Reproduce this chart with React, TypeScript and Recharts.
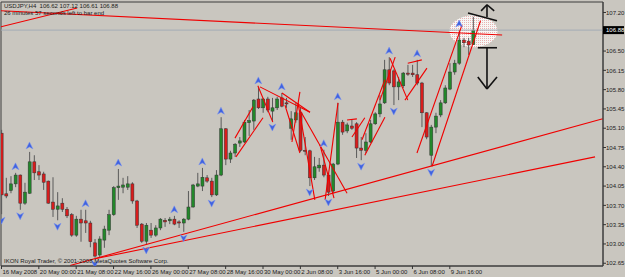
import React from "react";
import {
  ComposedChart,
  Bar,
  Scatter,
  XAxis,
  YAxis,
  ReferenceLine,
  ReferenceDot,
  ReferenceArea,
} from "recharts";

// USDJPY H4, bars 0..101 (16 May 2008 16:00 .. 10 Jun 2008)
const opens = [
  105.01, 103.91, 103.97, 104.09, 104.25, 103.74, 103.92, 104.49, 104.31, 104.27,
  104.14, 103.76, 103.63, 103.74, 103.63, 103.53, 103.16, 103.45, 103.42, 103.38,
  103.02, 102.8, 103.07, 103.25, 103.53, 104.02, 104.03, 104.03, 104.09, 103.78,
  103.36, 103.05, 103.25, 103.16, 103.29, 103.43, 103.42, 103.45, 103.4, 103.38,
  103.45, 103.67, 104.05, 104.05, 104.2, 104.14, 103.89, 104.25, 105.09, 104.54,
  104.65, 104.83, 104.85, 105.2, 105.23, 105.63, 105.47, 105.63, 105.41, 105.47,
  105.65, 105.56, 105.1, 105.25, 105.38, 104.7, 104.69, 104.2, 104.38, 104.43,
  104.25, 103.96, 104.45, 105.21, 105.05, 105.14, 105.18, 104.74, 104.7, 104.85,
  105.18, 105.36, 105.56, 106.16, 106.14, 105.85, 105.87, 106.1, 106.1, 106.07,
  105.92, 105.38, 104.61, 105.12, 105.34, 105.56, 105.81, 106.12, 106.28, 106.7,
  106.68, 106.62,
];
const highs = [
  105.07, 104.2, 104.23, 104.29, 104.26, 104.11, 104.67, 104.61, 104.43, 104.31,
  104.15, 104.21, 103.94, 103.83, 103.67, 103.56, 103.51, 103.62, 103.62, 103.42,
  103.09, 103.14, 103.33, 103.62, 104.05, 104.36, 104.2, 104.23, 104.12, 103.8,
  103.38, 103.38, 103.38, 103.34, 103.47, 103.47, 103.49, 103.51, 103.43, 103.47,
  103.96, 104.09, 104.29, 104.38, 104.25, 104.2, 104.34, 105.3, 105.1, 104.69,
  104.83, 104.94, 105.25, 105.43, 105.63, 105.85, 105.65, 105.67, 105.65, 105.67,
  105.74, 105.65, 105.41, 105.56, 105.48, 104.94, 104.71, 104.58, 104.56, 104.71,
  104.29, 104.47, 105.56, 105.25, 105.2, 105.25, 105.21, 104.94, 105.01, 105.25,
  105.39, 105.7, 106.34, 106.39, 106.17, 106.03, 106.12, 106.25, 106.25, 106.34,
  105.94, 105.39, 105.16, 105.38, 105.61, 105.88, 106.28, 106.34, 106.88, 106.74,
  106.74, 107.12,
];
const lows = [
  103.54, 103.83, 103.92, 104.03, 103.62, 103.71, 103.91, 104.16, 104.16, 103.98,
  103.73, 103.49, 103.43, 103.58, 103.47, 103.13, 103.13, 103.04, 103.2, 102.94,
  102.75, 102.76, 102.93, 103.16, 103.51, 103.8, 103.92, 103.98, 103.73, 103.29,
  103.02, 103.0, 103.11, 103.13, 103.25, 103.31, 103.36, 103.34, 103.29, 103.22,
  103.43, 103.66, 104.03, 103.96, 104.11, 103.85, 103.87, 104.23, 104.43, 104.47,
  104.58, 104.76, 104.83, 104.96, 105.07, 105.45, 105.38, 105.39, 105.23, 105.43,
  105.48, 105.47, 104.89, 105.2, 104.67, 104.61, 104.05, 104.16, 104.31, 104.21,
  103.87, 103.92, 104.43, 104.98, 105.01, 105.07, 104.56, 104.52, 104.65, 104.83,
  105.16, 105.3, 105.54, 105.88, 105.52, 105.61, 105.83, 106.05, 106.03, 105.88,
  105.12, 104.9, 104.41, 105.01, 105.3, 105.54, 105.79, 106.07, 106.25, 106.57,
  106.43, 106.61,
];
const closes = [
  103.89, 103.87, 104.09, 104.25, 103.74, 103.94, 104.49, 104.29, 104.25, 104.12,
  103.74, 103.63, 103.69, 103.63, 103.51, 103.16, 103.45, 103.38, 103.38, 103.04,
  102.78, 103.09, 103.27, 103.53, 104.02, 104.05, 104.07, 104.09, 103.78, 103.34,
  103.05, 103.34, 103.16, 103.29, 103.45, 103.4, 103.45, 103.36, 103.38, 103.45,
  103.67, 104.07, 104.09, 104.21, 104.14, 103.89, 104.25, 105.09, 104.54, 104.65,
  104.81, 104.87, 105.21, 105.24, 105.61, 105.47, 105.63, 105.43, 105.47, 105.63,
  105.5, 105.54, 105.27, 105.38, 104.7, 104.69, 104.2, 104.4, 104.43, 104.25,
  103.94, 104.45, 105.21, 105.03, 105.16, 105.1, 104.74, 104.7, 104.85, 105.18,
  105.36, 105.54, 106.16, 105.92, 105.85, 105.94, 106.1, 106.08, 106.07, 105.92,
  105.38, 104.94, 105.12, 105.32, 105.56, 105.83, 106.12, 106.28, 106.7, 106.65,
  106.61, 106.88,
];

const xTickBars = [0, 8, 16, 24, 32, 40, 48, 56, 64, 72, 80, 88, 96];
const xTickLabels = [
  "16 May 2008", "20 May 00:00", "21 May 08:00", "22 May 16:00", "26 May 00:00",
  "27 May 08:00", "28 May 16:00", "30 May 00:00", "2 Jun 08:00", "3 Jun 16:00",
  "5 Jun 00:00", "6 Jun 08:00", "9 Jun 16:00",
];
const yTicks = [
  107.2, 106.88, 106.5, 106.15, 105.8, 105.45, 105.1, 104.75, 104.4, 104.05, 103.7,
  103.35, 103.0, 102.65,
];
const lastPrice = 106.88;

const upFractals = [3, 6, 18, 25, 37, 43, 47, 55, 60, 69, 72, 83, 89, 98];
const downFractals = [0, 4, 12, 20, 31, 39, 45, 58, 66, 70, 77, 84, 92];

// red trend lines: [bar1, price1, bar2, price2]
const trendLines = [
  [-0.1, 107.23, 107.2, 106.79],
  [-0.1, 106.94, 16.2, 107.28],
  [14.7, 102.61, 128.75, 105.27],
  [20.0, 102.73, 127.1, 104.58],
  [88.97, 104.65, 98.6, 106.97],
  [92.2, 104.41, 102.57, 107.05],
  [50.0, 104.92, 53.85, 105.49],
  [50.2, 104.58, 56.0, 105.29],
  [54.9, 105.87, 58.1, 105.21],
  [55.35, 105.85, 66.06, 105.39],
  [60.06, 105.74, 66.06, 105.39],
  [63.9, 105.76, 62.2, 104.85],
  [63.5, 105.56, 67.1, 103.8],
  [63.9, 105.43, 74.0, 103.92],
  [72.06, 105.56, 69.3, 103.8],
  [60.7, 105.52, 63.9, 104.65],
  [74.0, 105.25, 76.1, 105.27],
  [75.05, 104.94, 77.8, 105.29],
  [77.2, 104.89, 82.1, 105.98],
  [77.8, 104.61, 82.1, 105.3],
  [81.05, 105.61, 84.3, 106.39],
  [83.2, 106.37, 87.0, 105.61],
  [87.0, 106.28, 90.0, 106.34],
  [86.4, 105.61, 91.1, 106.19],
  [68.2, 104.8, 71.2, 103.83],
];

// black hand-drawn arrows
const arrowLines = [
  [103.96, 107.34, 103.96, 107.12],
  [102.7, 107.23, 103.96, 107.34],
  [103.96, 107.34, 105.5, 107.23],
  [99.9, 107.19, 106.1, 107.05],
  [102.0, 106.56, 106.1, 106.56],
  [103.96, 106.56, 103.96, 105.81],
  [102.0, 106.03, 103.96, 105.81],
  [103.96, 105.81, 106.1, 106.03],
];

const ellipseBar = 101.07;
const ellipsePrice = 106.86;

const BG = "#c9c6bf";
const BULL = "#22882a";
const BEAR = "#d81c1c";
const WICK = "#5a5a5a";
const FONT = "'Liberation Sans', Arial, sans-serif";

const rows = opens.map((o, i) => ({
  i,
  o,
  h: highs[i],
  l: lows[i],
  c: closes[i],
  range: [lows[i], highs[i]],
}));
const upData = upFractals.map((b) => ({ i: b, v: highs[b] }));
const downData = downFractals.map((b) => ({ i: b, v: lows[b] }));

const Candle = (props: any) => {
  const { x, y, width, height, payload } = props;
  if (x == null || y == null) return null;
  const top = Math.min(y, y + height);
  const hh = Math.abs(height);
  const { o, h, l, c } = payload;
  const cx = x + width / 2;
  const k = h === l ? 0 : hh / (h - l);
  const bTop = top + (h - Math.max(o, c)) * k;
  const bBot = top + (h - Math.min(o, c)) * k;
  return (
    <g>
      <line x1={cx} x2={cx} y1={top} y2={top + hh} stroke={WICK} strokeWidth={1} />
      <rect
        x={cx - 1.5}
        y={bTop}
        width={3}
        height={Math.max(bBot - bTop, 1)}
        fill={c >= o ? BULL : BEAR}
        stroke="#333"
        strokeWidth={0.5}
      />
    </g>
  );
};

const UpMark = (props: any) => {
  const { cx, cy } = props;
  const y = cy - 6;
  return (
    <polygon
      points={`${cx},${y - 4} ${cx + 3.5},${y + 3} ${cx},${y + 1} ${cx - 3.5},${y + 3}`}
      fill="#3f62e0"
      stroke="#7d95ee"
      strokeWidth={0.5}
    />
  );
};

const DownMark = (props: any) => {
  const { cx, cy } = props;
  const y = cy + 6;
  return (
    <polygon
      points={`${cx},${y + 4} ${cx + 3.5},${y - 3} ${cx},${y - 1} ${cx - 3.5},${y - 3}`}
      fill="#3f62e0"
      stroke="#7d95ee"
      strokeWidth={0.5}
    />
  );
};

const XTick = (props: any) => {
  const { x, y, payload } = props;
  const k = xTickBars.indexOf(payload.value);
  return (
    <g>
      <line x1={x} x2={x} y1={y - 2} y2={y + 1} stroke="#333" />
      <text x={x + 1} y={y + 6} fontSize={6} fill="#1a1a1a" fontFamily={FONT}>
        {xTickLabels[k]}
      </text>
    </g>
  );
};

const YTick = (props: any) => {
  const { x, y, payload } = props;
  const v = payload.value;
  const last = Math.abs(v - lastPrice) < 1e-6;
  return (
    <g>
      {last ? (
        <rect x={x - 2} y={y - 4} width={21} height={8} fill="#000" />
      ) : (
        <line x1={x - 2} x2={x + 1} y1={y} y2={y} stroke="#333" />
      )}
      <text x={x + 1} y={y + 2.2} fontSize={6} fill={last ? "#fff" : "#1a1a1a"} fontFamily={FONT}>
        {v.toFixed(2)}
      </text>
    </g>
  );
};

const Ellipse = (props: any) => {
  const { cx, cy } = props;
  return (
    <ellipse cx={cx} cy={cy} rx={24} ry={16} fill="url(#hatch)" fillOpacity={0.85} />
  );
};

export default function App() {
  return (
    <div style={{ position: "absolute", left: 0, top: 0, width: 625, height: 277, background: BG }}>
      <svg width={0} height={0} style={{ position: "absolute" }}>
        <defs>
          <pattern id="hatch" width={2} height={2} patternUnits="userSpaceOnUse">
            <rect width={2} height={2} fill="#ffffff" />
            <rect width={1} height={1} fill="#eeb0b0" />
          </pattern>
        </defs>
      </svg>
      <ComposedChart
        width={625}
        height={277}
        data={rows}
        margin={{ top: 2, right: 0, bottom: 0, left: 1 }}
      >
        <XAxis
          type="number"
          dataKey="i"
          domain={[-0.1, 128.8]}
          ticks={xTickBars}
          interval={0}
          tick={<XTick />}
          tickLine={false}
          tickSize={0}
          axisLine={{ stroke: "#3c3c3c" }}
          height={11}
          allowDataOverflow
        />
        <YAxis
          orientation="right"
          type="number"
          domain={[102.6, 107.39]}
          ticks={yTicks}
          interval={0}
          tick={<YTick />}
          tickLine={false}
          tickSize={0}
          axisLine={{ stroke: "#3c3c3c" }}
          width={22}
          allowDataOverflow
        />
        <ReferenceArea
          x1={-0.1}
          x2={128.8}
          y1={102.6}
          y2={107.39}
          fill="none"
          stroke="#3c3c3c"
          ifOverflow="visible"
        />
        <ReferenceLine y={lastPrice} stroke="#a3acb6" strokeWidth={1} />
        <ReferenceDot
          x={ellipseBar}
          y={ellipsePrice}
          shape={<Ellipse />}
          ifOverflow="visible"
          zIndex={-10}
        />
        <Bar dataKey="range" barSize={3} shape={<Candle />} isAnimationActive={false} />
        <Scatter data={upData} dataKey="v" shape={<UpMark />} isAnimationActive={false} />
        <Scatter data={downData} dataKey="v" shape={<DownMark />} isAnimationActive={false} />
        {trendLines.map((t, k) => (
          <ReferenceLine
            key={"t" + k}
            segment={[
              { x: t[0], y: t[1] },
              { x: t[2], y: t[3] },
            ]}
            stroke="#f00000"
            strokeWidth={1.1}
            ifOverflow="hidden"
          />
        ))}
        {arrowLines.map((t, k) => (
          <ReferenceLine
            key={"a" + k}
            segment={[
              { x: t[0], y: t[1] },
              { x: t[2], y: t[3] },
            ]}
            stroke="#111"
            strokeWidth={1.6}
            ifOverflow="visible"
          />
        ))}
      </ComposedChart>
      <div style={{ position: "absolute", left: 4, top: 3, font: `6px ${FONT}`, color: "#1a1a1a", lineHeight: "7px", pointerEvents: "none" }}>
        <div>USDJPY,H4&nbsp; 106.62 107.12 106.61 106.88</div>
        <div>26 minutes 57 seconds left to bar end</div>
      </div>
      <div style={{ position: "absolute", left: 4, top: 258, font: `6px ${FONT}`, color: "#1a1a1a", lineHeight: "7px", pointerEvents: "none" }}>
        IKON Royal Trader, © 2001-2008 MetaQuotes Software Corp.
      </div>
    </div>
  );
}
